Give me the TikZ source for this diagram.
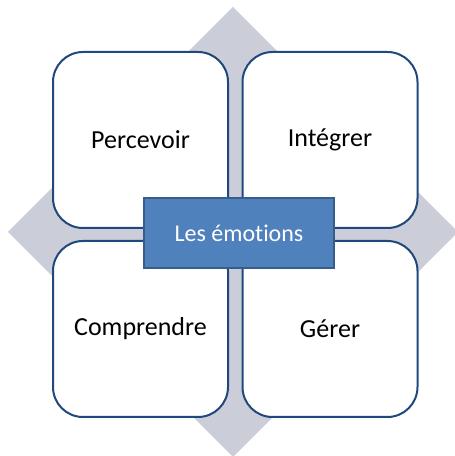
\documentclass[tikz,border=0pt]{standalone}
\usepackage{fontspec}
\setmainfont{Carlito}[Ligatures=NoCommon]
\definecolor{diamondgray}{HTML}{CBCDD8}
\definecolor{boxborder}{HTML}{1F497D}
\definecolor{centerfill}{HTML}{4F81BD}
\definecolor{centerborder}{HTML}{385D8A}
\tikzset{
  quadbox/.style={draw=boxborder, fill=white, line width=2pt, rounded corners=30pt,
    minimum width=175pt, minimum height=176pt, inner sep=0pt,
    font=\fontsize{26}{30}\selectfont, text=black},
  centerbox/.style={draw=centerborder, fill=centerfill, line width=1.5pt,
    minimum width=190pt, minimum height=70pt, inner sep=0pt,
    font=\fontsize{24}{28}\selectfont, text=white}
}
\begin{document}
\begin{tikzpicture}[x=1pt,y=1pt]
\useasboundingbox (0,0) rectangle (455,456);
\clip (0,0) rectangle (455,456);
\fill[diamondgray] (233,449) -- (8,224) -- (233,-1) -- (458,224) -- cycle;
\node[quadbox] (tl) at (140.5,316) {Percevoir};
\node[quadbox] (tr) at (330,316) {Intégrer};
\node[quadbox] (bl) at (140.5,127) {Comprendre};
\node[quadbox] (br) at (330,127) {Gérer};
\node[centerbox] (c) at (239,223) {Les émotions};
\end{tikzpicture}
\end{document}
